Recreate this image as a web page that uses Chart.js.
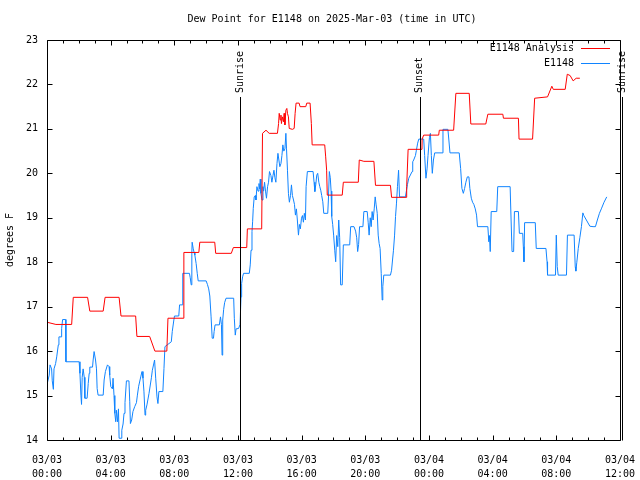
<!DOCTYPE html>
<html>
<head>
<meta charset="utf-8">
<script src="https://cdn.jsdelivr.net/npm/chart.js@4.4.1/dist/chart.umd.min.js"></script>
<style>
body { margin: 0; background: #fff; }
</style>
</head>
<body>
<canvas id="chartCanvas" width="640" height="480"></canvas>
<script>
// Hours since 03/03 00:00 UTC
const tickDates = ['03/03', '03/03', '03/03', '03/03', '03/03', '03/03', '03/04', '03/04', '03/04', '03/04'];
const tickTimes = ['00:00', '04:00', '08:00', '12:00', '16:00', '20:00', '00:00', '04:00', '08:00', '12:00'];

const eventNames = ['Sunrise', 'Sunset', 'Sunrise'];
const eventHours = [12.15, 23.42, 36.15];

// E1148 Analysis
const analysisHours = [
    0, 0.56, 1.55, 1.65, 2.55, 2.69, 3.53, 3.65, 4.53, 4.65,
    5.57, 5.65, 6.45, 6.78, 7.53, 7.60, 8.55, 8.60, 9.54, 9.60,
    10.54, 10.60, 11.58, 11.71, 12.55, 12.59, 13.49, 13.54, 13.76, 13.96,
    14.48, 14.55, 14.59, 14.65, 14.70, 14.73, 14.80, 14.86, 14.90, 14.95,
    15.01, 15.07, 15.11, 15.17, 15.22, 15.42, 15.53, 15.59, 15.65, 15.84,
    15.90, 16.26, 16.32, 16.53, 16.61, 16.66, 17.45, 17.51, 17.57, 17.61,
    18.55, 18.62, 19.56, 19.62, 19.91, 20.54, 20.64, 21.58, 21.65, 22.56,
    22.60, 22.69, 23.56, 23.57, 23.67, 24.61, 24.65, 25.55, 25.69, 26.53,
    26.63, 27.57, 27.70, 28.64, 28.68, 29.62, 29.66, 30.51, 30.64, 31.45,
    31.72, 31.81, 32.56, 32.69, 32.87, 33.06, 33.25, 33.48
];
const analysisValues = [
    16.65, 16.6, 16.6, 17.21, 17.21, 16.9, 16.9, 17.21, 17.21, 16.79,
    16.79, 16.33, 16.33, 16.0, 16.0, 16.74, 16.74, 18.22, 18.22, 18.45,
    18.45, 18.2, 18.2, 18.33, 18.33, 18.75, 18.75, 20.9, 20.97, 20.9,
    20.9, 21.12, 21.35, 21.2, 21.31, 21.12, 21.27, 21.16, 21.35, 21.09,
    21.42, 21.46, 21.35, 21.27, 21.01, 20.99, 21.01, 21.35, 21.58, 21.58,
    21.5, 21.5, 21.58, 21.58, 21.12, 20.64, 20.64, 20.37, 20.07, 19.51,
    19.51, 19.8, 19.8, 20.3, 20.27, 20.27, 19.73, 19.73, 19.46, 19.46,
    19.7, 20.54, 20.54, 20.77, 20.86, 20.86, 20.97, 20.97, 21.8, 21.8,
    21.11, 21.11, 21.33, 21.33, 21.24, 21.24, 20.77, 20.77, 21.69, 21.72,
    21.96, 21.89, 21.89, 22.23, 22.2, 22.08, 22.14, 22.14
];

// E1148 observations
const stationHours = [
    0.00, 0.14, 0.19, 0.29, 0.33, 0.40, 0.44, 0.54, 0.61, 0.71,
    0.75, 0.88, 0.92, 0.98, 1.17, 1.19, 2.02, 2.07, 2.13, 2.17,
    2.21, 2.27, 2.34, 2.38, 2.52, 2.59, 2.65, 2.69, 2.86, 2.90,
    2.96, 3.05, 3.11, 3.15, 3.21, 3.53, 3.59, 3.67, 3.80, 3.90,
    3.94, 4.01, 4.11, 4.15, 4.21, 4.26, 4.32, 4.36, 4.43, 4.49,
    4.53, 4.65, 4.70, 4.78, 4.84, 4.90, 4.99, 5.15, 5.20, 5.24,
    5.32, 5.40, 5.51, 5.62, 5.68, 5.76, 5.89, 5.97, 6.03, 6.09,
    6.16, 6.20, 6.28, 6.41, 6.56, 6.62, 6.76, 6.83, 6.91, 6.97,
    7.03, 7.28, 7.35, 7.41, 7.81, 7.87, 7.97, 8.01, 8.28, 8.33,
    8.50, 8.53, 8.95, 9.00, 9.06, 9.10, 9.12, 9.19, 9.25, 9.29,
    9.37, 9.44, 9.50, 10.00, 10.08, 10.16, 10.23, 10.31, 10.38, 10.46,
    10.50, 10.56, 10.83, 10.90, 10.96, 11.00, 11.04, 11.10, 11.16, 11.25,
    11.73, 11.77, 11.83, 11.88, 12.04, 12.13, 12.19, 12.23, 12.29, 12.35,
    12.71, 12.77, 12.82, 12.88, 12.92, 12.96, 13.02, 13.09, 13.13, 13.19,
    13.26, 13.32, 13.36, 13.40, 13.44, 13.51, 13.57, 13.61, 13.67, 13.73,
    13.79, 13.86, 13.92, 13.98, 14.07, 14.13, 14.20, 14.26, 14.32, 14.38,
    14.45, 14.51, 14.57, 14.63, 14.70, 14.76, 14.82, 14.88, 14.95, 15.01,
    15.05, 15.11, 15.17, 15.23, 15.30, 15.36, 15.42, 15.49, 15.55, 15.61,
    15.67, 15.73, 15.80, 15.86, 15.92, 15.99, 16.05, 16.11, 16.17, 16.24,
    16.28, 16.36, 16.72, 16.78, 16.83, 16.89, 16.95, 17.01, 17.08, 17.14,
    17.20, 17.26, 17.33, 17.39, 17.64, 17.68, 17.74, 17.80, 17.85, 17.89,
    17.95, 18.01, 18.08, 18.14, 18.20, 18.27, 18.33, 18.39, 18.45, 18.55,
    18.62, 19.02, 19.08, 19.29, 19.39, 19.46, 19.52, 19.58, 19.64, 19.85,
    19.91, 20.12, 20.18, 20.24, 20.31, 20.37, 20.43, 20.49, 20.56, 20.62,
    20.68, 20.75, 20.81, 20.87, 20.93, 21.00, 21.06, 21.10, 21.16, 21.58,
    21.65, 21.71, 21.77, 21.84, 21.90, 21.96, 22.02, 22.09, 22.15, 22.52,
    22.59, 22.65, 22.73, 22.94, 22.98, 23.04, 23.15, 23.21, 23.29, 23.36,
    23.67, 23.73, 23.81, 23.88, 23.94, 24.03, 24.09, 24.15, 24.21, 24.28,
    24.36, 24.82, 24.88, 25.19, 25.25, 25.32, 25.90, 25.99, 26.07, 26.16,
    26.24, 26.32, 26.41, 26.51, 26.57, 26.66, 26.74, 26.82, 26.91, 26.99,
    27.05, 27.70, 27.76, 27.80, 27.85, 27.91, 28.26, 28.32, 29.10, 29.16,
    29.22, 29.32, 29.37, 29.62, 29.68, 29.89, 29.93, 29.97, 30.01, 30.68,
    30.74, 31.35, 31.42, 31.45, 31.95, 32.00, 32.06, 32.12, 32.64, 32.70,
    33.12, 33.19, 33.23, 33.29, 33.38, 33.48, 33.58, 33.67, 33.73, 33.89,
    34.11, 34.31, 34.46, 34.58, 34.71, 34.83, 35.00, 35.17
];
const stationValues = [
    15.25, 15.46, 15.69, 15.6, 15.33, 15.14, 15.6, 15.72, 15.87, 16.14,
    16.32, 16.32, 16.51, 16.71, 16.71, 15.76, 15.76, 15.5, 15.01, 14.8,
    15.41, 15.6, 15.41, 14.94, 14.94, 15.27, 15.5, 15.64, 15.64, 15.8,
    15.99, 15.8, 15.6, 15.16, 15.01, 15.01, 15.35, 15.54, 15.69, 15.65,
    15.46, 15.2, 15.15, 15.39, 15.0, 14.6, 14.41, 14.67, 14.41, 14.70,
    14.04, 14.04, 14.22, 14.36, 14.6, 14.84, 15.33, 15.33, 14.86, 14.37,
    14.45, 14.64, 14.75, 14.84, 15.01, 15.21, 15.42, 15.54, 15.39, 15.1,
    14.56, 14.67, 14.79, 15.05, 15.4, 15.57, 15.8, 15.39, 14.97, 14.82,
    15.09, 15.09, 15.61, 16.1, 16.21, 16.44, 16.7, 16.79, 16.79, 17.04,
    17.04, 17.75, 17.75, 17.65, 17.49, 18.21, 18.45, 18.3, 18.21, 18.16,
    17.97, 17.75, 17.58, 17.58, 17.5, 17.4, 17.24, 16.77, 16.29, 16.29,
    16.44, 16.59, 16.59, 16.77, 16.6, 15.91, 16.7, 16.94, 17.09, 17.19,
    17.19, 16.74, 16.36, 16.5, 16.51, 16.6, 17.22, 17.52, 17.67, 17.75,
    17.75, 17.94, 18.27, 18.69, 18.91, 19.21, 19.47, 19.5, 19.4, 19.7,
    19.6, 19.77, 19.65, 19.87, 19.55, 19.4, 19.7, 19.6, 19.8, 19.6,
    19.44, 19.7, 19.8, 20.04, 19.95, 19.8, 19.95, 20.07, 19.9, 19.8,
    20.22, 20.45, 20.3, 20.15, 20.22, 20.4, 20.64, 20.5, 20.55, 20.9,
    20.55, 20.07, 19.55, 19.35, 19.5, 19.74, 19.5, 19.4, 19.3, 19.06,
    19.2, 18.95, 18.61, 18.85, 18.75, 18.99, 19.05, 18.9, 19.1, 18.95,
    19.7, 20.04, 20.04, 19.8, 19.59, 19.75, 19.96, 20.0, 19.8, 19.7,
    19.62, 19.5, 19.36, 19.1, 19.1, 19.4, 20.04, 19.9, 19.6, 19.03,
    18.85, 18.61, 18.27, 18.01, 18.6, 18.35, 18.95, 18.55, 17.49, 17.49,
    18.39, 18.39, 18.8, 18.8, 18.7, 18.55, 18.24, 18.4, 18.8, 18.8,
    19.14, 19.14, 18.9, 18.61, 19.0, 18.8, 19.14, 18.95, 19.2, 19.47,
    19.29, 19.1, 18.61, 18.42, 18.31, 17.75, 17.15, 17.45, 17.71, 17.71,
    17.82, 18.05, 18.27, 18.61, 19.03, 19.33, 19.7, 20.07, 19.47, 19.47,
    19.62, 19.75, 19.89, 20.04, 20.26, 20.3, 20.4, 20.52, 20.68, 20.77,
    20.77, 20.4, 19.89, 20.1, 20.4, 20.81, 20.9, 20.4, 20.0, 20.3,
    20.46, 20.46, 20.99, 20.99, 20.75, 20.46, 20.46, 20.11, 19.66, 19.55,
    19.66, 19.8, 19.92, 19.92, 19.66, 19.44, 19.35, 19.3, 19.2, 19.06,
    18.8, 18.8, 18.46, 18.6, 18.24, 19.14, 19.14, 19.7, 19.7, 18.95,
    18.24, 18.24, 19.14, 19.14, 18.65, 18.65, 18.35, 18.01, 18.89, 18.89,
    18.31, 18.31, 18.01, 17.71, 17.71, 18.61, 17.9, 17.71, 17.71, 18.61,
    18.61, 17.9, 17.8, 18.0, 18.31, 18.55, 18.8, 19.11, 19.05, 18.95,
    18.81, 18.8, 18.8, 18.95, 19.1, 19.2, 19.35, 19.47
];

const FONT = "'DejaVu Sans Mono', 'Liberation Mono', monospace";

function toPoints(hours, values) {
    const n = Math.min(hours.length, values.length);
    const pts = [];
    for (let i = 0; i < n; i++) pts.push({ x: hours[i], y: values[i] });
    return pts;
}

// gnuplot style frame, inward ticks, title, legend and sun markers
const decorations = {
    id: 'decorations',
    afterDraw(chart) {
        const c = chart.ctx;
        const a = chart.chartArea;
        const xs = chart.scales.x, ys = chart.scales.y;
        const L = Math.round(a.left) + 0.5, R = Math.round(a.right) + 0.5;
        const T = Math.round(a.top) + 0.5, B = Math.round(a.bottom) + 0.5;
        c.save();
        c.strokeStyle = '#000';
        c.lineWidth = 1;
        c.beginPath();
        c.rect(L, T, R - L, B - T);
        for (let h = 0; h <= 36; h++) {
            const x = Math.round(xs.getPixelForValue(h)) + 0.5;
            const len = h % 4 === 0 ? 5 : 3;
            c.moveTo(x, B); c.lineTo(x, B - len);
            c.moveTo(x, T); c.lineTo(x, T + len);
        }
        for (let v = 14; v <= 23; v++) {
            const y = Math.round(ys.getPixelForValue(v)) + 0.5;
            c.moveTo(L, y); c.lineTo(L + 5, y);
            c.moveTo(R, y); c.lineTo(R - 5, y);
        }
        // sunrise / sunset lines
        eventHours.forEach(h => {
            const x = Math.round(xs.getPixelForValue(h)) + 0.5;
            c.moveTo(x, 97); c.lineTo(x, B);
        });
        c.stroke();

        c.fillStyle = '#000';
        c.font = '10px ' + FONT;
        eventNames.forEach((name, i) => {
            const x = xs.getPixelForValue(eventHours[i]);
            c.save();
            c.translate(x, 93);
            c.rotate(-Math.PI / 2);
            c.textAlign = 'left';
            c.textBaseline = 'middle';
            c.fillText(name, 0, 0);
            c.restore();
        });

        c.textAlign = 'center';
        c.textBaseline = 'middle';
        c.fillText('Dew Point for E1148 on 2025-Mar-03 (time in UTC)', 332, 19);

        // legend
        const items = chart.data.datasets;
        items.forEach((ds, i) => {
            const y = 48 + i * 15 + 0.5;
            c.textAlign = 'right';
            c.fillStyle = '#000';
            c.fillText(ds.label, 574, y);
            c.strokeStyle = ds.borderColor;
            c.beginPath();
            c.moveTo(581, y); c.lineTo(610, y);
            c.stroke();
        });
        c.restore();
    }
};

const ctx = document.getElementById('chartCanvas').getContext('2d');
new Chart(ctx, {
    type: 'line',
    data: {
        datasets: [{
            label: 'E1148 Analysis',
            data: toPoints(analysisHours, analysisValues),
            borderColor: '#ff0000',
            borderWidth: 1,
            pointRadius: 0,
            tension: 0
        }, {
            label: 'E1148',
            data: toPoints(stationHours, stationValues),
            borderColor: '#1084ff',
            borderWidth: 1,
            pointRadius: 0,
            tension: 0
        }]
    },
    options: {
        responsive: false,
        animation: false,
        events: [],
        layout: { padding: { left: 0, right: 17, top: 40, bottom: 0 } },
        plugins: {
            legend: { display: false },
            tooltip: { enabled: false }
        },
        scales: {
            x: {
                type: 'linear',
                min: 0,
                max: 36,
                grid: { display: false },
                border: { display: false },
                afterFit(scale) { scale.height = 40; },
                afterBuildTicks(scale) {
                    scale.ticks = tickTimes.map((t, i) => ({ value: i * 4 }));
                },
                ticks: {
                    autoSkip: false,
                    maxRotation: 0,
                    padding: 5,
                    color: '#000',
                    font: { family: FONT, size: 10, lineHeight: 1.4 },
                    callback: (v) => {
                        const i = Math.round(v / 4);
                        return [tickDates[i], tickTimes[i]];
                    }
                }
            },
            y: {
                min: 14,
                max: 23,
                grid: { display: false, drawTicks: false },
                border: { display: false },
                afterFit(scale) { scale.width = 47; },
                ticks: {
                    stepSize: 1,
                    padding: 9,
                    color: '#000',
                    font: { family: FONT, size: 10 }
                },
                title: {
                    display: true,
                    text: 'degrees F',
                    color: '#000',
                    font: { family: FONT, size: 10 }
                }
            }
        }
    },
    plugins: [decorations]
});
</script>
</body>
</html>
